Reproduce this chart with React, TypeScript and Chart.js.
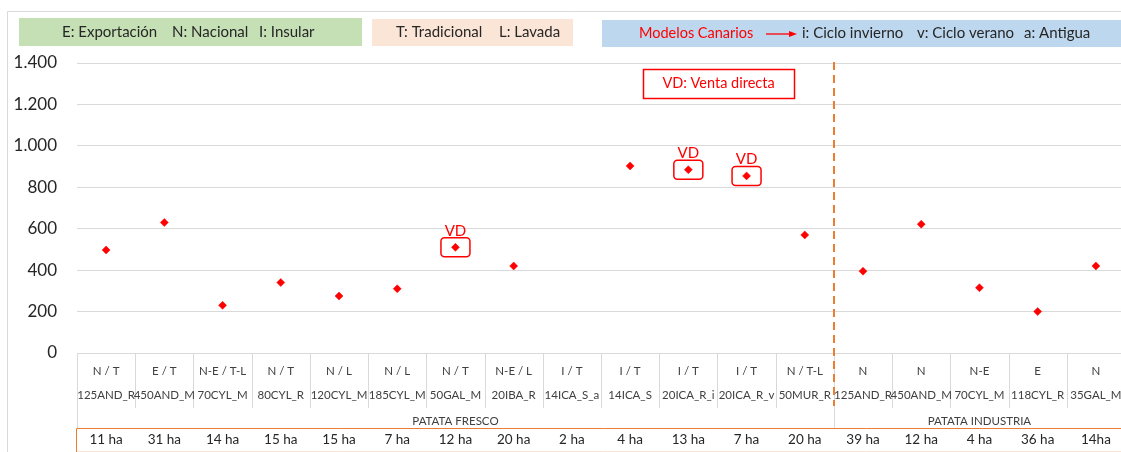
import React, { useEffect, useRef } from "react";
import { Chart, registerables } from "chart.js";

Chart.register(...registerables);

const categories = [
  "125AND_R", "450AND_M", "70CYL_M", "80CYL_R", "120CYL_M", "185CYL_M", "50GAL_M", "20IBA_R", "14ICA_S_a",
  "14ICA_S", "20ICA_R_i", "20ICA_R_v", "50MUR_R", "125AND_R", "450AND_M", "70CYL_M", "118CYL_R", "35GAL_M",
];
const destinations = [
  "N / T", "E / T", "N-E / T-L", "N / T", "N / L", "N / L", "N / T", "N-E / L", "I / T",
  "I / T", "I / T", "I / T", "N / T-L", "N", "N", "N-E", "E", "N",
];
const areas = [
  "11 ha", "31 ha", "14 ha", "15 ha", "15 ha", "7 ha", "12 ha", "20 ha", "2 ha",
  "4 ha", "13 ha", "7 ha", "20 ha", "39 ha", "12 ha", "4 ha", "36 ha", "14ha",
];
const values: (number | null)[] = [
  497, 630, 230, 340, 275, 310, 510, 420, null,
  903, 885, 855, 570, 395, 622, 315, 200, 420,
];
const directSaleIdx = [6, 10, 11];
const groupLabels = ["PATATA FRESCO", "PATATA INDUSTRIA"];
const groupCounts = [13, 5];
const yTicks = [0, 200, 400, 600, 800, 1000, 1200, 1400];

const FONT = "Lato, 'Open Sans', sans-serif";

function fmt(v: number) {
  return String(v).replace(/\B(?=(\d{3})+(?!\d))/g, ".");
}

const decorPlugin = {
  id: "decor",
  beforeDraw(chart: any) {
    const ctx: CanvasRenderingContext2D = chart.ctx;
    ctx.save();
    ctx.fillStyle = "#ffffff";
    ctx.fillRect(0, 0, chart.width, chart.height);
    // outer frame
    ctx.strokeStyle = "#D9D9D9";
    ctx.lineWidth = 1;
    ctx.beginPath();
    ctx.moveTo(7.5, 452);
    ctx.lineTo(7.5, 11.5);
    ctx.lineTo(chart.width, 11.5);
    ctx.stroke();
    // legend boxes
    ctx.fillStyle = "#C5E0B4";
    ctx.fillRect(19, 18, 343, 28);
    ctx.fillStyle = "#FBE5D6";
    ctx.fillRect(372, 19, 201, 27);
    ctx.fillStyle = "#BDD7EE";
    ctx.fillRect(602, 20, 540, 27);
    ctx.font = `15px ${FONT}`;
    ctx.textBaseline = "middle";
    ctx.textAlign = "left";
    ctx.fillStyle = "#262626";
    ctx.fillText("E: Exportación", 62, 32);
    ctx.fillText("N: Nacional", 172, 32);
    ctx.fillText("I: Insular", 259, 32);
    ctx.fillText("T: Tradicional", 396, 32.5);
    ctx.fillText("L: Lavada", 499, 32.5);
    ctx.fillText("i: Ciclo invierno", 802, 33.5);
    ctx.fillText("v: Ciclo verano", 917, 33.5);
    ctx.fillText("a: Antigua", 1024, 33.5);
    ctx.fillStyle = "#FF0000";
    ctx.font = `14.5px ${FONT}`;
    ctx.fillText("Modelos Canarios", 639, 33.5);
    // arrow
    ctx.strokeStyle = "#FF0000";
    ctx.lineWidth = 1.3;
    ctx.beginPath();
    ctx.moveTo(766, 34);
    ctx.lineTo(792, 34);
    ctx.stroke();
    ctx.beginPath();
    ctx.moveTo(797, 34);
    ctx.lineTo(789, 31);
    ctx.lineTo(789, 37);
    ctx.closePath();
    ctx.fill();
    ctx.restore();
  },
  afterDraw(chart: any) {
    const ctx: CanvasRenderingContext2D = chart.ctx;
    const xs = chart.scales.x;
    const ys = chart.scales.y;
    const area = chart.chartArea;
    const n = categories.length;
    const w = (area.right - area.left) / n;
    const left = area.left;
    const y0 = Math.round(ys.getPixelForValue(0)) + 0.5;
    ctx.save();
    // table grid
    ctx.strokeStyle = "#D9D9D9";
    ctx.lineWidth = 1;
    ctx.beginPath();
    for (let i = 0; i <= n; i++) {
      const x = Math.round(left + i * w) + 0.5;
      ctx.moveTo(x, y0);
      ctx.lineTo(x, 408);
    }
    let acc = 0;
    for (let g = 0; g <= groupCounts.length; g++) {
      const x = Math.round(left + acc * w) + 0.5;
      ctx.moveTo(x, 408);
      ctx.lineTo(x, 428);
      if (g < groupCounts.length) acc += groupCounts[g];
    }
    ctx.stroke();
    // orange row
    ctx.strokeStyle = "#ED7D31";
    ctx.beginPath();
    ctx.moveTo(left - 0.5, 428.5);
    ctx.lineTo(chart.width, 428.5);
    ctx.moveTo(left - 0.5, 428.5);
    ctx.lineTo(left - 0.5, 452);
    ctx.stroke();
    ctx.strokeStyle = "#FBE5D6";
    ctx.beginPath();
    ctx.moveTo(left, 451.5);
    ctx.lineTo(chart.width, 451.5);
    ctx.stroke();
    // labels
    ctx.fillStyle = "#404040";
    ctx.textAlign = "center";
    ctx.textBaseline = "middle";
    ctx.font = `11.5px ${FONT}`;
    for (let i = 0; i < n; i++) {
      const cx = xs.getPixelForValue(i);
      ctx.fillText(destinations[i], cx, 371);
      ctx.fillText(categories[i], cx, 395);
    }
    acc = 0;
    for (let g = 0; g < groupLabels.length; g++) {
      const cx = left + (acc + groupCounts[g] / 2) * w;
      ctx.fillText(groupLabels[g], cx, 421);
      acc += groupCounts[g];
    }
    ctx.fillStyle = "#262626";
    ctx.font = `13.5px ${FONT}`;
    for (let i = 0; i < n; i++) {
      const cx = xs.getPixelForValue(i);
      ctx.fillText(areas[i], cx, 440);
    }
    // dashed separator
    const sx = Math.round(left + groupCounts[0] * w);
    ctx.strokeStyle = "#ED7D31";
    ctx.lineWidth = 2;
    ctx.setLineDash([8, 5]);
    ctx.beginPath();
    ctx.moveTo(sx, 62);
    ctx.lineTo(sx, 406);
    ctx.stroke();
    ctx.setLineDash([]);
    // VD markers
    ctx.strokeStyle = "#FF0000";
    ctx.fillStyle = "#FF0000";
    ctx.lineWidth = 1.5;
    ctx.font = `15px ${FONT}`;
    ctx.textBaseline = "alphabetic";
    for (const i of directSaleIdx) {
      const v = values[i];
      if (v == null) continue;
      const px = xs.getPixelForValue(i);
      const py = ys.getPixelForValue(v);
      ctx.beginPath();
      (ctx as any).roundRect(px - 14.5, py - 9.5, 29, 19, 3.5);
      ctx.stroke();
      ctx.fillText("VD", px, py - 11.5);
    }
    // VD legend box
    ctx.fillStyle = "#ffffff";
    ctx.fillRect(643, 69, 151, 29);
    ctx.strokeRect(643.5, 69.5, 151, 29);
    ctx.fillStyle = "#FF0000";
    ctx.font = `14.5px ${FONT}`;
    ctx.textBaseline = "middle";
    ctx.fillText("VD: Venta directa", 718.5, 83.5);
    ctx.restore();
  },
};

export default function App() {
  const ref = useRef<HTMLCanvasElement | null>(null);
  useEffect(() => {
    if (!ref.current) return;
    const chart = new Chart(ref.current, {
      type: "line",
      data: {
        labels: categories,
        datasets: [
          {
            data: values,
            showLine: false,
            pointStyle: "rectRot",
            pointRadius: 4,
            pointHoverRadius: 4,
            pointBackgroundColor: "#FF0000",
            pointBorderColor: "#FF0000",
            pointBorderWidth: 0.5,
            borderColor: "#FF0000",
          },
        ],
      },
      options: {
        responsive: false,
        animation: false,
        devicePixelRatio: 1,
        layout: { padding: { left: 0, top: 63, right: 5, bottom: 99 } },
        plugins: { legend: { display: false }, tooltip: { enabled: false } },
        scales: {
          x: { type: "category", offset: true, display: false },
          y: {
            min: 0,
            max: 1400,
            afterBuildTicks: (s: any) => {
              s.ticks = yTicks.map((v) => ({ value: v }));
            },
            afterFit: (s: any) => {
              s.width = 77;
            },
            ticks: {
              padding: 20,
              color: "#262626",
              font: { family: FONT, size: 17 },
              callback: (v: any) => fmt(Number(v)),
            },
            grid: { color: "#D9D9D9", drawTicks: false, lineWidth: 1 },
            border: { display: false },
          },
        },
      },
      plugins: [decorPlugin],
    });
    return () => chart.destroy();
  }, []);
  return (
    <div style={{ position: "fixed", left: 0, top: 0, width: 1121, height: 452, overflow: "hidden", background: "#fff" }}>
      <canvas ref={ref} width={1130} height={452} style={{ width: 1130, height: 452, display: "block" }} />
    </div>
  );
}
